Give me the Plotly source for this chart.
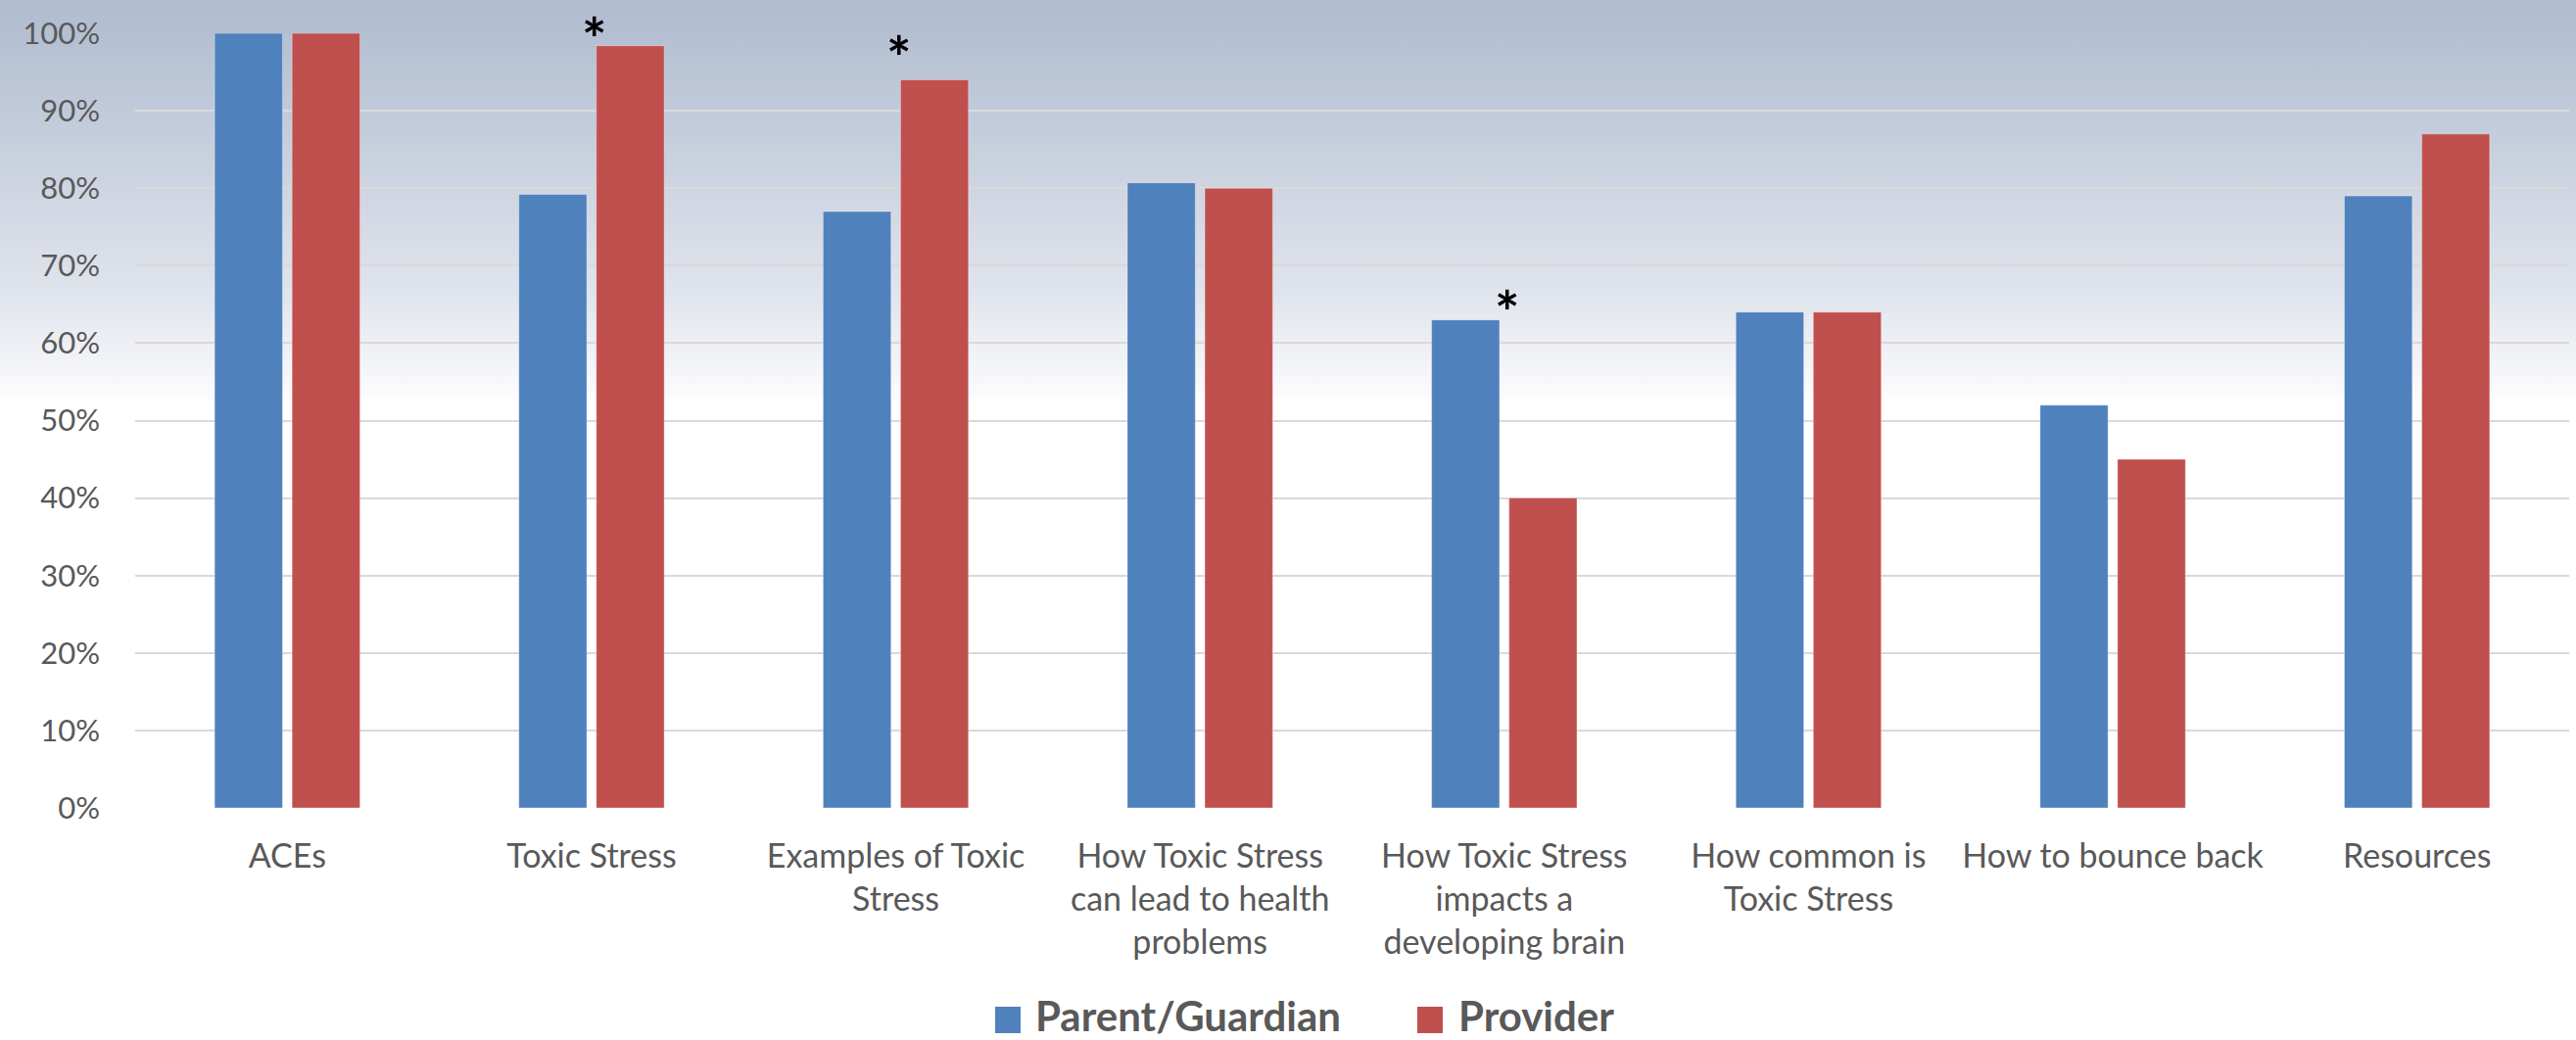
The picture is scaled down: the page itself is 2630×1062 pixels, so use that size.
import base64
import plotly.graph_objects as go

# ---- data ----
categories = [
    "ACEs",
    "Toxic Stress",
    "Examples of Toxic<br>Stress",
    "How Toxic Stress<br>can lead to health<br>problems",
    "How Toxic Stress<br>impacts a<br>developing brain",
    "How common is<br>Toxic Stress",
    "How to bounce back",
    "Resources",
]
parent_guardian = [1.00, 0.792, 0.770, 0.807, 0.630, 0.640, 0.520, 0.790]
provider = [1.00, 0.984, 0.940, 0.800, 0.400, 0.640, 0.450, 0.870]
series_names = ["Parent/Guardian", "Provider"]
series_colors = ["#4F81BD", "#C0504D"]

# significance markers (category, level of the star)
star_categories = [categories[1], categories[2], categories[4]]
star_levels = [1.008, 0.984, 0.655]

# ---- layout geometry (pixels) ----
W, H = 2630, 1062
L, R, T, B = 138, 7, 34, 237
PW, PH = W - L - R, H - T - B


def px_x(px):
    return (px - L) / PW


def px_y(py):
    return (H - B - py) / PH


FONT = "Lato, 'Open Sans', sans-serif"
GRAY = "#595959"

fig = go.Figure()
for name, vals, col in zip(series_names, [parent_guardian, provider], series_colors):
    fig.add_trace(go.Bar(
        x=categories, y=vals, name=name,
        marker=dict(color=col, line=dict(color="rgba(255,255,255,0.35)", width=1)),
        showlegend=False,
    ))

# gradient background as an svg image
svg = (
    '<svg xmlns="http://www.w3.org/2000/svg" width="2630" height="1062" preserveAspectRatio="none">'
    '<defs><linearGradient id="g" x1="0" y1="0" x2="0" y2="1">'
    '<stop offset="0" stop-color="#AFBCCF"/>'
    '<stop offset="0.094" stop-color="#BEC8D8"/>'
    '<stop offset="0.188" stop-color="#D0D6E2"/>'
    '<stop offset="0.282" stop-color="#E0E4EC"/>'
    '<stop offset="0.346" stop-color="#F2F3F7"/>'
    '<stop offset="0.383" stop-color="#FCFCFD"/>'
    '<stop offset="0.385" stop-color="#FFFFFF"/>'
    '<stop offset="1" stop-color="#FFFFFF"/>'
    '</linearGradient></defs>'
    '<rect x="0" y="0" width="2630" height="1062" fill="url(#g)"/></svg>'
)
src = "data:image/svg+xml;base64," + base64.b64encode(svg.encode()).decode()
fig.add_layout_image(dict(
    source=src, xref="paper", yref="paper",
    x=px_x(0), y=px_y(0), sizex=W / PW, sizey=H / PH,
    xanchor="left", yanchor="top", sizing="stretch", layer="below",
))

# asterisks (levels above the axis top are expressed as a pixel shift)
for cat, lvl in zip(star_categories, star_levels):
    inside = min(lvl, 1.0)
    fig.add_annotation(
        x=cat, y=inside, xref="x", yref="y", text="<b>*</b>", showarrow=False,
        font=dict(family=FONT, size=60, color="#000000"),
        xanchor="center", yanchor="middle", xshift=3,
        yshift=-11 + (lvl - inside) * PH,
    )

# manual legend (large squares like the original)
legend_items = [
    (series_names[0], series_colors[0], 1016, 1056),
    (series_names[1], series_colors[1], 1447, 1488),
]
for name, col, sq_x, tx_x in legend_items:
    fig.add_shape(type="rect", xref="paper", yref="paper",
                  x0=px_x(sq_x), x1=px_x(sq_x + 26), y0=px_y(1055), y1=px_y(1028),
                  fillcolor=col, line=dict(width=0))
    fig.add_annotation(
        x=px_x(tx_x), y=px_y(1037), xref="paper", yref="paper",
        text="<b>" + name + "</b>", showarrow=False,
        font=dict(family=FONT, size=42, color=GRAY),
        xanchor="left", yanchor="middle", borderpad=0,
    )

fig.update_layout(
    width=W, height=H,
    margin=dict(l=L, r=R, t=T, b=B, autoexpand=False),
    paper_bgcolor="#FFFFFF",
    plot_bgcolor="rgba(0,0,0,0)",
    barmode="group", bargap=0.491, bargroupgap=0.123,
    font=dict(family=FONT, color=GRAY, size=32),
    xaxis=dict(
        showgrid=False, showline=False, zeroline=False, ticks="",
        tickfont=dict(family=FONT, size=34, color=GRAY),
        ticklabelstandoff=26, automargin=False,
    ),
    yaxis=dict(
        range=[0, 1], dtick=0.1, tickformat=".0%",
        showgrid=True, gridcolor="#D9D9D9", gridwidth=2,
        zeroline=False, showline=False, ticks="",
        tickfont=dict(family=FONT, size=31, color=GRAY),
        ticklabelstandoff=35, automargin=False,
    ),
)

fig.write_html(
    "out.html",
    config={"displayModeBar": False},
    post_script="document.body.style.margin='0px';document.body.style.overflow='hidden';",
)
